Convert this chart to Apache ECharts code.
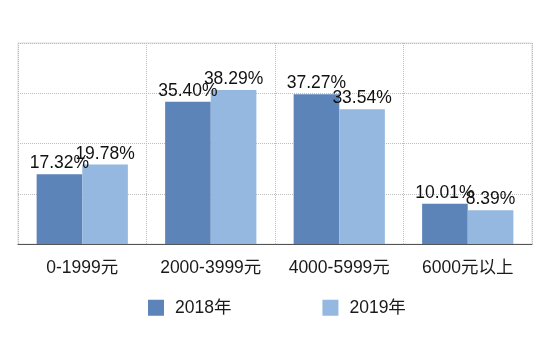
<!DOCTYPE html>
<html><head><meta charset="utf-8">
<script src="https://cdn.jsdelivr.net/npm/echarts@6/dist/echarts.min.js"></script>
<style>html,body{margin:0;padding:0;background:#fff}#c{width:550px;height:359px}</style>
</head><body><div id="c"></div>
<script>
var categories = ['0-1999元', '2000-3999元', '4000-5999元', '6000元以上'];
var series2018 = [17.32, 35.40, 37.27, 10.01];
var series2019 = [19.78, 38.29, 33.54, 8.39];
var seriesNames = ['2018年', '2019年'];
var FONT = '"Liberation Sans", Arial, "Noto Sans CJK SC", sans-serif';
var chart = echarts.init(document.getElementById('c'), null, {renderer: 'canvas'});
var lbl = {show: true, position: 'top', distance: 2, color: '#111', fontSize: 17.5, fontFamily: FONT,
  formatter: function (p) { return p.value.toFixed(2) + '%'; }};
var grid = {color: '#bdbdbd', type: 'dotted'};
chart.setOption({
  animation: false,
  textStyle: {fontFamily: FONT},
  grid: {left: 18, right: 18, top: 43, bottom: 115, containLabel: false,
         show: true, borderColor: '#dadada', borderWidth: 1, backgroundColor: 'transparent'},
  legend: {
    data: seriesNames, left: 143, top: 294, itemWidth: 16, itemHeight: 16, itemGap: 91,
    icon: 'rect',
    textStyle: {fontSize: 17.5, color: '#1a1a1a', fontFamily: FONT, padding: [0, 0, 0, 6]}
  },
  xAxis: {
    type: 'category', data: categories,
    axisLine: {lineStyle: {color: '#555', width: 1}},
    axisTick: {show: false},
    axisLabel: {fontSize: 17.5, color: '#1a1a1a', margin: 15, fontFamily: FONT, interval: 0},
    splitLine: {show: true, interval: 0, lineStyle: grid}
  },
  yAxis: {
    type: 'value', min: 0, max: 50, interval: 12.5,
    axisLabel: {show: false}, axisLine: {show: false}, axisTick: {show: false},
    splitLine: {show: true, lineStyle: grid}
  },
  series: [
    {name: seriesNames[0], type: 'bar', data: series2018, barGap: '0%', barCategoryGap: '29%',
     itemStyle: {color: '#5c84b8'}, label: lbl},
    {name: seriesNames[1], type: 'bar', data: series2019, barGap: '0%', barCategoryGap: '29%',
     itemStyle: {color: '#94b8df'}, label: lbl}
  ]
});
</script></body></html>
